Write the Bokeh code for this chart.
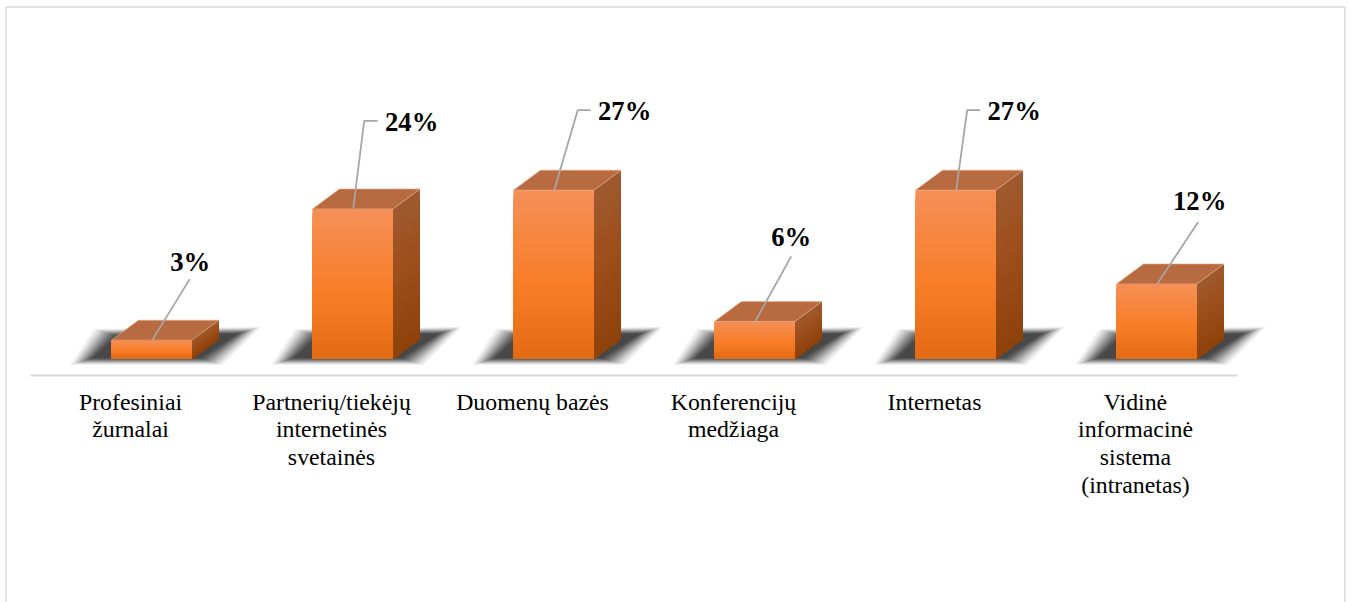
from bokeh.plotting import figure
from bokeh.embed import file_html
from bokeh.resources import INLINE
from bokeh.core.properties import value as V

categories = ["Profesiniai\nžurnalai", "Partnerių/tiekėjų\ninternetinės\nsvetainės", "Duomenų bazės",
              "Konferencijų\nmedžiaga", "Internetas", "Vidinė\ninformacinė\nsistema\n(intranetas)"]
shares = [3, 24, 27, 6, 27, 12]
share_labels = ["3%", "24%", "27%", "6%", "27%", "12%"]

# layout, in page pixels
W, H = 1351, 602
PX_PER_CAT = 201.0
PX_PER_PCT = 6.25
X0_PX = 151.2      # centre of first front face
Y0_PX = 358.4      # baseline of bars
BAR_W, DEPTH_X, DEPTH_Y = 80.5, 27.0, 20.0
dx = 1 / PX_PER_CAT
dy = 1 / PX_PER_PCT

def hexmix(stops, t):
    for (t0, c0), (t1, c1) in zip(stops, stops[1:]):
        if t <= t1:
            f = (t - t0) / (t1 - t0)
            return "#%02x%02x%02x" % tuple(round(a + (b - a) * f) for a, b in zip(c0, c1))
    return "#%02x%02x%02x" % stops[-1][1]

FRONT = [(0, (245, 143, 86)), (0.55, (248, 125, 39)), (1, (226, 106, 19))]
SIDE = [(0, (158, 90, 48)), (0.35, (158, 80, 30)), (1, (142, 66, 10))]
TOP = "#b86b40"

xr = (-X0_PX * dx, (W - X0_PX) * dx)
yr = ((Y0_PX - H) * dy, Y0_PX * dy)
p = figure(width=W, height=H, x_range=xr, y_range=yr, output_backend="svg", toolbar_location=None,
           min_border=0, outline_line_color=None, background_fill_color="white", margin=(0, 0, 0, 0))
p.axis.visible = False
p.grid.visible = False

def px(x):
    return (x - X0_PX) * dx
def py(y):
    return (Y0_PX - y) * dy

# page frame
p.multi_line([[px(5.5), px(5.5)], [px(5.5), px(1344.5)], [px(1344.5), px(1344.5)]],
             [[py(605), py(6.5)], [py(6.5), py(6.5)], [py(6.5), py(605)]],
             line_color="#e2e2e2", line_width=2)

# shadows, from faint/wide to dark/narrow
LAYERS = 25
for k in range(LAYERS):
    g = (LAYERS - 1 - k) * 1.0
    a = 0.025 + 0.13 * (k / (LAYERS - 1)) ** 1.5
    xs, ys = [], []
    for i in range(len(shares)):
        l = i - BAR_W / 2 * dx
        xs.append([l + (-18 - g) * dx, l + (6 - g) * dx, l + (126 + g) * dx, l + (88 + g) * dx])
        ys.append([(1 - g * .3) * dy, (23 + g * .3) * dy, (25 + g * .3) * dy, (1 - g * .3) * dy])
    p.patches(xs, ys, fill_color="#303030", fill_alpha=a, line_color=None)

# axis line
p.segment(px(30), py(375), px(1237), py(375), line_color="#d9d9d9", line_width=2)

# bars
N = 40
for i, v in enumerate(shares):
    l, r = i - BAR_W / 2 * dx, i + BAR_W / 2 * dx
    d_x, d_y = DEPTH_X * dx, DEPTH_Y * dy
    # side face
    sx, sy, sc = [], [], []
    for n in range(N):
        t = n / N
        top = v * (1 - t)
        sx.append([r, r + d_x, r + d_x, r])
        sy.append([top, top + d_y, d_y, 0])
        sc.append(hexmix(SIDE, t))
    p.patches(sx, sy, fill_color=sc, line_color=None)
    # top face
    p.patch([l, l + d_x, r + d_x, r], [v, v + d_y, v + d_y, v], fill_color=TOP, line_color="#e9b08c", line_width=0.6)
    # front face
    p.quad(left=[l] * N, right=[r] * N, bottom=[0] * N, top=[v * (1 - n / N) for n in range(N)],
           fill_color=[hexmix(FRONT, n / N) for n in range(N)], line_color=None)

# leader lines: (anchor dx from front centre, elbow dx/dy, end dx/dy) in pixels
LEADERS = [[(0.5, 0), (38, 61)],
           [(0.5, 0), (11.5, 88), (25, 88)],
           [(0.5, 0), (24, 80), (37, 80)],
           [(0.5, 0), (36.5, 65)],
           [(0.5, 0), (11.5, 80), (24.5, 80)],
           [(0.5, 0), (41.5, 62)]]
lx, ly = [], []
for i, (v, pts) in enumerate(zip(shares, LEADERS)):
    lx.append([i + a * dx for a, b in pts])
    ly.append([v + b * dy for a, b in pts])
p.multi_line(lx, ly, line_color="#a6a6a6", line_width=1.8)

# value labels
LBL = [(38.5, 78), (59, 87), (71, 79), (36.5, 84), (58.5, 79), (43, 83)]
p.text([i + a * dx for i, (a, b) in enumerate(LBL)], [v + b * dy for v, (a, b) in zip(shares, LBL)],
       text=share_labels, text_font=V("Liberation Serif"), text_font_style="bold", text_font_size="26.67px",
       text_align="center", text_baseline="middle", text_color="#000000")

# category labels
p.text([i - 21.2 * dx for i in range(len(categories))], [py(388)] * len(categories), text=categories,
       text_font=V("Liberation Serif"), text_font_size="23.8px", text_align="center", text_baseline="top",
       text_line_height=1.065, text_color="#000000")

open("out.html", "w").write(file_html(p, INLINE))
